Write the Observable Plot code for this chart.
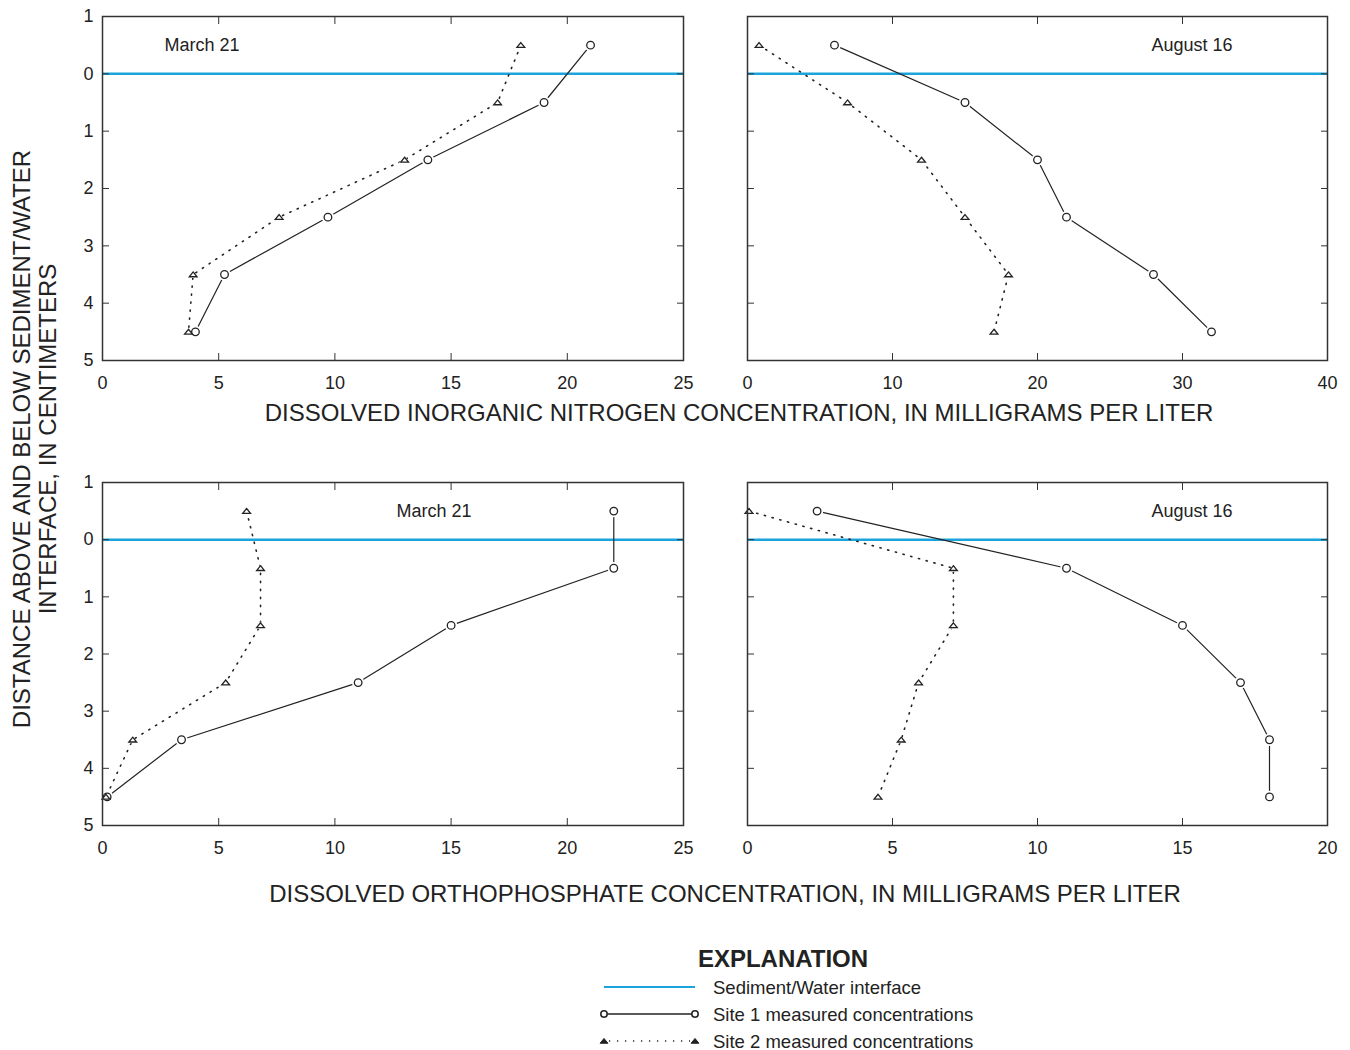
<!DOCTYPE html>
<html>
<head>
<meta charset="utf-8">
<script src="https://cdn.jsdelivr.net/npm/d3@7"></script>
<script src="https://cdn.jsdelivr.net/npm/@observablehq/plot@0.6"></script>
<style>
  body { margin: 0; background: #fff; }
  #page { position: relative; width: 1350px; height: 1050px; font-family: "Liberation Sans", Arial, Helvetica, sans-serif; color: #222; overflow: hidden; }
  .panel { position: absolute; }
  .title { position: absolute; transform: translate(-50%, -50%); white-space: nowrap; font-size: 24px; }
  .ytitle { position: absolute; transform: translate(-50%, -50%) rotate(-90deg); white-space: nowrap; font-size: 24px; line-height: 26px; text-align: center; }
  #legend { position: absolute; left: 580px; top: 940px; }
</style>
</head>
<body>
<div id="page"></div>
<script>
// Sampled layers, cm relative to the sediment/water interface (negative = above it)
const depth = [-0.5, 0.5, 1.5, 2.5, 3.5, 4.5];
const depthTicks = [-1, 0, 1, 2, 3, 4, 5];

// Dissolved inorganic nitrogen, mg/L
const nitrogenMarchSite1 = [21, 19, 14, 9.7, 5.25, 4.0];
const nitrogenMarchSite2 = [18, 17, 13, 7.6, 3.9, 3.7];
const nitrogenAugustSite1 = [6, 15, 20, 22, 28, 32];
const nitrogenAugustSite2 = [0.8, 6.9, 12, 15, 18, 17];

// Dissolved orthophosphate, mg/L
const phosphateMarchSite1 = [22, 22, 15, 11, 3.4, 0.2];
const phosphateMarchSite2 = [6.2, 6.8, 6.8, 5.3, 1.3, 0.15];
const phosphateAugustSite1 = [2.4, 11, 15, 17, 18, 18];
const phosphateAugustSite2 = [0.05, 7.1, 7.1, 5.9, 5.3, 4.5];

const ticks25 = [0, 5, 10, 15, 20, 25];
const ticks40 = [0, 10, 20, 30, 40];
const ticks20 = [0, 5, 10, 15, 20];

const dateLabels = ["March 21", "August 16"];
const nitrogenTitle = "DISSOLVED INORGANIC NITROGEN CONCENTRATION, IN MILLIGRAMS PER LITER";
const phosphateTitle = "DISSOLVED ORTHOPHOSPHATE CONCENTRATION, IN MILLIGRAMS PER LITER";
const depthTitle = ["DISTANCE ABOVE AND BELOW SEDIMENT/WATER", "INTERFACE, IN CENTIMETERS"];
const legendTitle = "EXPLANATION";
const legendLabels = ["Sediment/Water interface", "Site 1 measured concentrations", "Site 2 measured concentrations"];

const INK = "#222";
const BLUE = "#1ba3dc";
const FONT = "'Liberation Sans', Arial, Helvetica, sans-serif";

// Low, wide open triangle used for Site 2
const flatTriangle = {
  draw(ctx, size) {
    const r = Math.sqrt(size / Math.PI);
    ctx.moveTo(0, -0.85 * r);
    ctx.lineTo(1.3 * r, 0.75 * r);
    ctx.lineTo(-1.3 * r, 0.75 * r);
    ctx.closePath();
  }
};

const page = document.getElementById("page");

function profile(values) {
  return depth.map((d, i) => ({depth: d, value: values[i]}));
}

function panel(cfg) {
  const s1 = profile(cfg.site1);
  const s2 = profile(cfg.site2);
  const marks = [
    Plot.ruleY([0], {stroke: BLUE, strokeWidth: 2.5}),
    Plot.line(s2, {x: "value", y: "depth", stroke: INK, strokeWidth: 1.6, strokeDasharray: "1.2,6.8"}),
    Plot.line(s1, {x: "value", y: "depth", stroke: INK, strokeWidth: 1.2}),
    // white halos open a small gap where the lines meet the symbols
    Plot.dot(s1, {x: "value", y: "depth", r: 6.2, fill: "white"}),
    Plot.dot(s2, {x: "value", y: "depth", r: 4.5, symbol: flatTriangle, fill: "white"}),
    Plot.dot(s1, {x: "value", y: "depth", r: 3.8, stroke: INK, strokeWidth: 1.3, fill: "white"}),
    Plot.dot(s2, {x: "value", y: "depth", r: 3, symbol: flatTriangle, stroke: INK, strokeWidth: 1.3, fill: "white"}),
    Plot.frame({stroke: "#333", strokeWidth: 1.5}),
    // inward ticks on all four sides
    Plot.axisX(cfg.ticks, {anchor: "bottom", tickSize: -7, tickFormat: () => "", label: null, stroke: "#333"}),
    Plot.axisX(cfg.ticks, {anchor: "top", tickSize: -7, tickFormat: () => "", label: null, stroke: "#333"}),
    Plot.axisY(depthTicks, {anchor: "left", tickSize: -7, tickFormat: () => "", label: null, stroke: "#333"}),
    Plot.axisY(depthTicks, {anchor: "right", tickSize: -7, tickFormat: () => "", label: null, stroke: "#333"}),
    Plot.axisX(cfg.ticks, {anchor: "bottom", tickSize: 0, tickPadding: 16, fontSize: 18, fill: INK, label: null}),
    Plot.text([cfg.label], {frameAnchor: cfg.labelAnchor, dx: cfg.labelDx, dy: 29, lineAnchor: "middle",
      textAnchor: cfg.labelTextAnchor, fontSize: 18, fill: INK})
  ];
  if (cfg.showY) {
    marks.push(Plot.axisY(depthTicks, {anchor: "left", tickSize: 0, tickPadding: 9, fontSize: 18, fill: INK,
      tickFormat: (d) => String(Math.abs(d)), label: null}));
  }
  const chart = Plot.plot({
    width: cfg.width,
    height: 400,
    marginLeft: cfg.marginLeft,
    marginRight: cfg.marginRight,
    marginTop: 16,
    marginBottom: cfg.marginBottom,
    x: {domain: cfg.domain, label: null},
    y: {domain: [-1, 5], reverse: true, label: null},
    style: {fontFamily: FONT, fontSize: "18px", color: INK, background: "transparent", overflow: "visible"},
    marks
  });
  chart.classList.add("panel");
  chart.style.left = cfg.left + "px";
  chart.style.top = cfg.top + "px";
  page.appendChild(chart);
}

const leftPanel = {left: 0, width: 700, marginLeft: 102, marginRight: 17, showY: true};
const rightPanel = {left: 720, width: 630, marginLeft: 27, marginRight: 23, showY: false};

panel({...leftPanel, top: 0, marginBottom: 40, domain: [0, 25], ticks: ticks25,
  site1: nitrogenMarchSite1, site2: nitrogenMarchSite2,
  label: dateLabels[0], labelAnchor: "top-left", labelDx: 62, labelTextAnchor: "start"});
panel({...rightPanel, top: 0, marginBottom: 40, domain: [0, 40], ticks: ticks40,
  site1: nitrogenAugustSite1, site2: nitrogenAugustSite2,
  label: dateLabels[1], labelAnchor: "top-right", labelDx: -95, labelTextAnchor: "end"});
panel({...leftPanel, top: 466, marginBottom: 41, domain: [0, 25], ticks: ticks25,
  site1: phosphateMarchSite1, site2: phosphateMarchSite2,
  label: dateLabels[0], labelAnchor: "top-left", labelDx: 294, labelTextAnchor: "start"});
panel({...rightPanel, top: 466, marginBottom: 41, domain: [0, 20], ticks: ticks20,
  site1: phosphateAugustSite1, site2: phosphateAugustSite2,
  label: dateLabels[1], labelAnchor: "top-right", labelDx: -95, labelTextAnchor: "end"});

// Shared axis titles
function addTitle(text, x, y) {
  const div = document.createElement("div");
  div.className = "title";
  div.textContent = text;
  div.style.left = x + "px";
  div.style.top = y + "px";
  page.appendChild(div);
}
addTitle(nitrogenTitle, 739, 413);
addTitle(phosphateTitle, 725, 894);

const yt = document.createElement("div");
yt.className = "ytitle";
yt.innerHTML = depthTitle.join("<br>");
yt.style.left = "35px";
yt.style.top = "439px";
page.appendChild(yt);

// Explanation (legend)
const legend = d3.select(page).append("svg")
  .attr("id", "legend").attr("width", 420).attr("height", 110)
  .style("font-family", FONT).style("fill", INK);
legend.append("text").attr("x", 203).attr("y", 18).attr("text-anchor", "middle")
  .attr("dominant-baseline", "central").attr("font-size", 24).attr("font-weight", "bold").text(legendTitle);
const rows = [47, 74, 101];
const x0 = 24, x1 = 115;
legend.append("line").attr("x1", x0).attr("x2", x1).attr("y1", rows[0]).attr("y2", rows[0])
  .attr("stroke", BLUE).attr("stroke-width", 2.2);
legend.append("line").attr("x1", x0).attr("x2", x1).attr("y1", rows[1]).attr("y2", rows[1])
  .attr("stroke", INK).attr("stroke-width", 1.3);
legend.append("line").attr("x1", x0 + 5).attr("x2", x1 - 5).attr("y1", rows[2]).attr("y2", rows[2])
  .attr("stroke", INK).attr("stroke-width", 1.5).attr("stroke-dasharray", "1.2,6.8");
for (const x of [x0, x1]) {
  legend.append("circle").attr("cx", x).attr("cy", rows[1]).attr("r", 3.2)
    .attr("fill", "white").attr("stroke", INK).attr("stroke-width", 1.5);
  legend.append("path").attr("transform", `translate(${x},${rows[2]})`)
    .attr("d", d3.symbol(flatTriangle, Math.PI * 9)()).attr("fill", INK).attr("stroke", INK).attr("stroke-width", 1);
}
legendLabels.forEach((t, i) => {
  legend.append("text").attr("x", 133).attr("y", rows[i]).attr("dominant-baseline", "central")
    .attr("font-size", 18.5).text(t);
});
</script>
</body>
</html>
